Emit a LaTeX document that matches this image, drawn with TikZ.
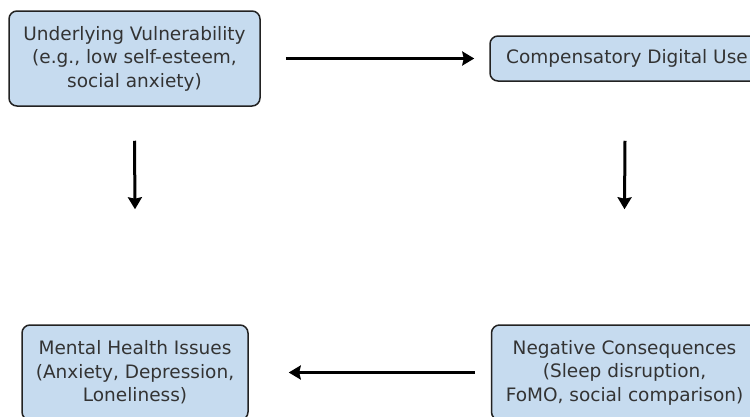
\documentclass[tikz,border=0pt]{standalone}
\usepackage{fontspec}
\setmainfont{DejaVu Sans}
\usetikzlibrary{arrows.meta}
\definecolor{boxfill}{HTML}{C6DBEF}
\definecolor{boxline}{HTML}{222222}
\definecolor{txt}{HTML}{333333}
\tikzset{
  box/.style={draw=boxline, line width=1.5pt, fill=boxfill, rounded corners=8pt,
    align=center, text=txt, inner sep=0pt,
    font=\fontsize{18.5}{23.5}\selectfont},
  arr/.style={line width=3pt, -{Stealth[length=12pt,width=14pt,inset=1.5pt]}, black}
}
\begin{document}
\begin{tikzpicture}[x=1pt,y=-1pt]
\useasboundingbox (0,0) rectangle (750,416);
\clip (0,0) rectangle (750,416);
\node[box, minimum width=251pt, minimum height=95pt] (u) at (134.5,58.5)
  {Underlying Vulnerability\\(e.g., low self-esteem,\\social anxiety)};
\node[box, minimum width=274pt, minimum height=45pt] (c) at (627,58.5)
  {Compensatory Digital Use};
\node[box, minimum width=266pt, minimum height=95pt] (n) at (624.5,372.5)
  {Negative Consequences\\(Sleep disruption,\\FoMO, social comparison)};
\node[box, minimum width=226pt, minimum height=95pt] (m) at (135,372.5)
  {Mental Health Issues\\(Anxiety, Depression,\\Loneliness)};
\draw[arr] ([xshift=25pt]u.east) -- ([xshift=-15pt]c.west);
\draw[arr] ([yshift=-34pt]u.south) -- ([yshift=115pt]m.north);
\draw[arr] ([xshift=-2pt,yshift=-59pt]c.south) -- ([yshift=115pt]n.north);
\draw[arr] ([xshift=-16pt]n.west) -- ([xshift=40pt]m.east);
\end{tikzpicture}
\end{document}
